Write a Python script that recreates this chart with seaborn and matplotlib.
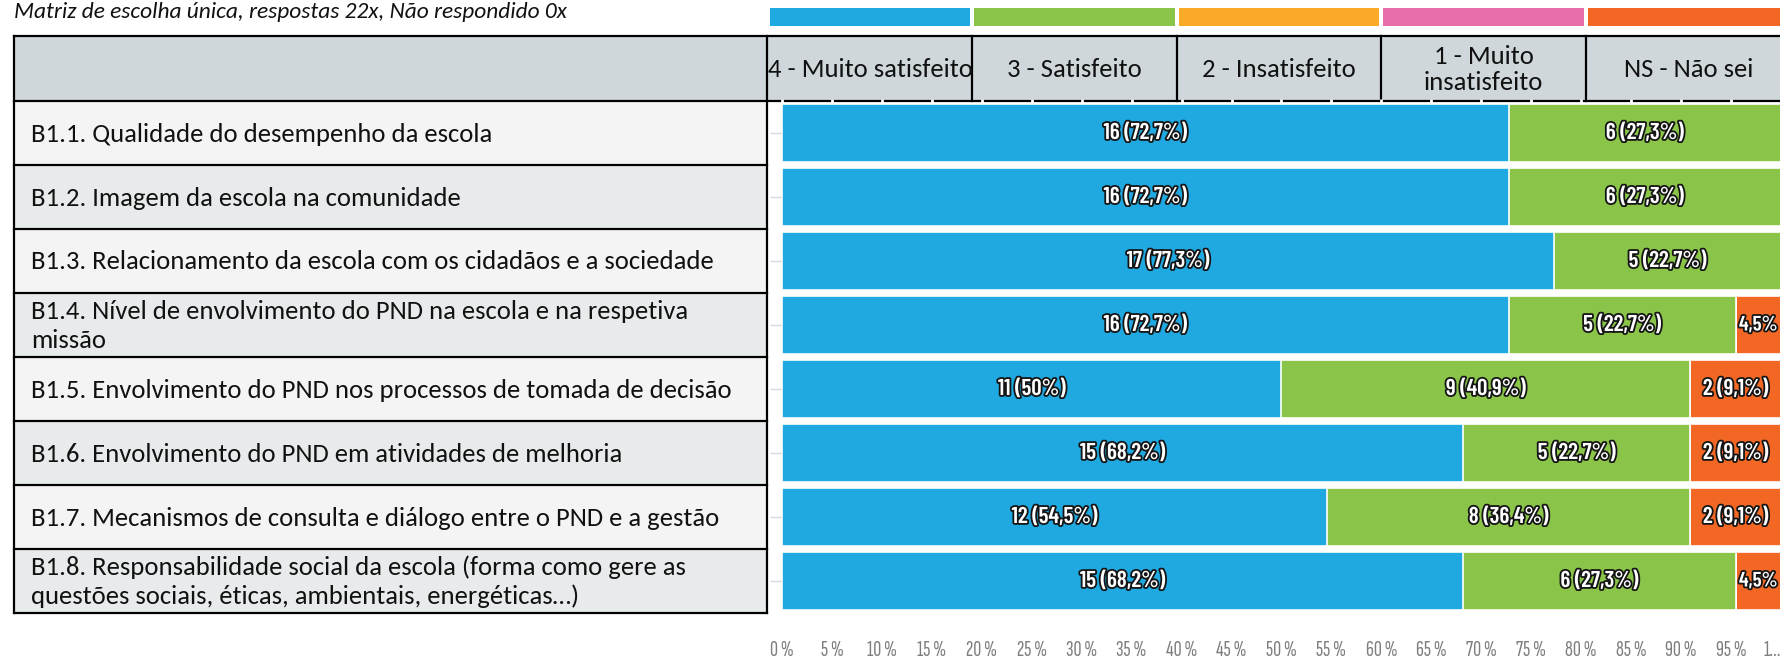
import numpy as np
import pandas as pd
import matplotlib
matplotlib.use("Agg")
import matplotlib.pyplot as plt
import seaborn as sns
from matplotlib.patches import Rectangle
from matplotlib.lines import Line2D
import matplotlib.patheffects as pe

# ---------------- data ----------------
title = "Matriz de escolha única, respostas 22x, Não respondido 0x"
questions = [
    "B1.1. Qualidade do desempenho da escola",
    "B1.2. Imagem da escola na comunidade",
    "B1.3. Relacionamento da escola com os cidadãos e a sociedade",
    "B1.4. Nível de envolvimento do PND na escola e na respetiva\nmissão",
    "B1.5. Envolvimento do PND nos processos de tomada de decisão",
    "B1.6. Envolvimento do PND em atividades de melhoria",
    "B1.7. Mecanismos de consulta e diálogo entre o PND e a gestão",
    "B1.8. Responsabilidade social da escola (forma como gere as\nquestões sociais, éticas, ambientais, energéticas…)",
]
categories = ["4 - Muito satisfeito", "3 - Satisfeito", "2 - Insatisfeito",
              "1 - Muito\ninsatisfeito", "NS - Não sei"]
muito_satisfeito = [16, 16, 17, 16, 11, 15, 12, 15]
satisfeito = [6, 6, 5, 5, 9, 5, 8, 6]
insatisfeito = [0, 0, 0, 0, 0, 0, 0, 0]
muito_insatisfeito = [0, 0, 0, 0, 0, 0, 0, 0]
nao_sei = [0, 0, 0, 1, 2, 2, 2, 1]
total_respostas = 22
tick_values = list(range(0, 101, 5))
tick_labels = ["0 %", "5 %", "10 %", "15 %", "20 %", "25 %", "30 %", "35 %", "40 %",
               "45 %", "50 %", "55 %", "60 %", "65 %", "70 %", "75 %", "80 %", "85 %",
               "90 %", "95 %", "1..."]

colors = ["#1FA9E0", "#8AC449", "#FBAA27", "#E86EAB", "#F26724"]
series = [muito_satisfeito, satisfeito, insatisfeito, muito_insatisfeito, nao_sei]

# ---------------- figure ----------------
W, H = 1781, 662
fig = plt.figure(figsize=(W / 100, H / 100), dpi=100)
fig.patch.set_facecolor("white")

def fx(x):
    return x / W

def fy(y):
    return 1 - y / H

TEXT_FONT = ["Carlito", "DejaVu Sans"]
BAR_FONT = ["Barlow Condensed", "Roboto Condensed", "DejaVu Sans"]
TICK_FONT = ["Sofia Sans Extra Condensed", "Roboto Condensed", "DejaVu Sans"]

# geometry (pixels)
L, C, R = 14, 767, 1781
HT, HB, TB = 36, 101, 613
n = len(questions)
row_h = (TB - HB) / n
AX_L, AX_R = 782, 1781
col_w = 204.5
col_x0 = 768

# bars axes
ax = fig.add_axes([fx(AX_L), fy(TB), fx(AX_R) - fx(AX_L), fy(HB) - fy(TB)])
ax.patch.set_visible(False)

cum = np.zeros(n)
cums = []
for s in series:
    cum = cum + np.array(s, dtype=float) / total_respostas * 100
    cums.append(cum.copy())

for k in range(len(series) - 1, -1, -1):
    d = pd.DataFrame({"q": questions, "v": cums[k]})
    sns.barplot(data=d, x="v", y="q", order=questions, orient="h",
                color=colors[k], saturation=1, width=0.9, errorbar=None,
                edgecolor="white", linewidth=1.2, ax=ax)

def fmt_pct(cnt):
    p = round(cnt / total_respostas * 100, 1)
    s = f"{p:.1f}".replace(".", ",")
    if s.endswith(",0"):
        s = s[:-2]
    return s + "%"

stroke = [pe.withStroke(linewidth=2.6, foreground="#151515")]
for i in range(n):
    start = 0.0
    for k, s in enumerate(series):
        cnt = s[i]
        width = cnt / total_respostas * 100
        if cnt > 0:
            pct = fmt_pct(cnt)
            lab = pct if width < 6 else f"{cnt} ({pct})"
            ax.text(start + width / 2, i, lab, ha="center", va="center",
                    color="white", fontsize=16.5 if width >= 6 else 15,
                    fontweight="semibold",
                    family=BAR_FONT, path_effects=stroke, zorder=5)
        start += width

ax.set_xlim(0, 100)
ax.set_ylim(n - 0.5, -0.5)
ax.set_xticks(tick_values)
ax.set_xticklabels(tick_labels, family=TICK_FONT, fontsize=16, color="#7E7E7E")
ax.get_xticklabels()[-1].set_horizontalalignment("right")
ax.tick_params(axis="x", length=0, pad=20)
ax.set_yticks(range(n))
ax.set_yticklabels([""] * n)
ax.tick_params(axis="y", length=9, width=1, color="#D3DCE4")
ax.set_xlabel("")
ax.set_ylabel("")
for sp in ax.spines.values():
    sp.set_visible(False)

top = ax.secondary_xaxis("top")
top.set_xticks(tick_values)
top.set_xticklabels([""] * len(tick_values))
top.tick_params(length=3, width=2, color="white", direction="inout")
for sp in top.spines.values():
    sp.set_visible(False)

# ---------------- table ----------------
def frect(x0, y0, x1, y1, **kw):
    r = Rectangle((fx(x0), fy(y1)), fx(x1) - fx(x0), fy(y0) - fy(y1),
                  transform=fig.transFigure, **kw)
    fig.add_artist(r)
    return r

def fline(xs, ys, **kw):
    l = Line2D([fx(x) for x in xs], [fy(y) for y in ys], transform=fig.transFigure, **kw)
    fig.add_artist(l)
    return l

frect(L, HT, R, HB, facecolor="#CFD7DB", edgecolor="none", zorder=-3)
for i in range(n):
    y0 = HB + i * row_h
    fc = "#F4F4F4" if i % 2 == 0 else "#E8EBEC"
    frect(L, y0, C, y0 + row_h, facecolor=fc, edgecolor="none", zorder=-3)
    fig.text(fx(31), fy(y0 + row_h / 2 + 1), questions[i], ha="left", va="center",
             family=TEXT_FONT, fontsize=19.2, color="#111111", linespacing=1.28)

lw = 1.6
fline([L, R], [HT, HT], color="black", lw=lw, zorder=-1)
fline([L, R], [HB, HB], color="black", lw=lw, zorder=-1)
for i in range(1, n + 1):
    y = HB + i * row_h
    fline([L, C], [y, y], color="black", lw=lw, zorder=-1)
fline([L, L], [HT, TB], color="black", lw=lw, zorder=-1)
fline([C, C], [HT, TB], color="black", lw=lw, zorder=-1)

for k, cat in enumerate(categories):
    x0 = col_x0 + k * col_w
    x1 = x0 + col_w
    if k > 0:
        fline([x0, x0], [HT, HB], color="black", lw=lw, zorder=-1)
    frect(x0 + 2, 8, x1 - 2, 26, facecolor=colors[k], edgecolor="none")
    fig.text(fx(x0 + col_w / 2), fy((HT + HB) / 2 + 1), cat, ha="center", va="center",
             family=TEXT_FONT, fontsize=19.2, color="#111111", linespacing=1.12)

fig.text(fx(14), fy(12), title, ha="left", va="center", family=TEXT_FONT,
         style="italic", fontsize=16.8, color="#111111")

fig.savefig("out.png", dpi=100)
